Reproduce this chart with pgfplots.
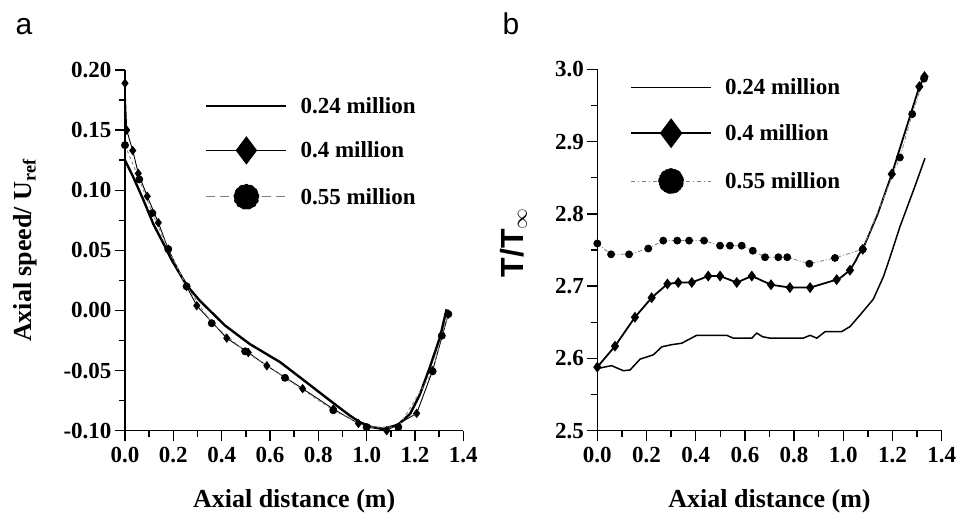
\documentclass[border=0pt]{standalone}
\usepackage{fontspec}
\setmainfont{Liberation Serif}
\setsansfont{Liberation Sans}
\usepackage{pgfplots}
\pgfplotsset{compat=1.18}
\definecolor{lgrey}{gray}{0.5}
\pgfplotsset{myax/.style={
  scale only axis,
  axis lines=left,
  axis line style={-, line width=1.4pt},
  x axis line style={shorten <=-6pt},
  y axis line style={shorten <=-6pt},
  tick align=outside,
  major tick length=10pt,
  minor tick length=6pt,
  tick style={line width=1.4pt, black},
  minor tick num=1,
  xmin=0, xmax=1.4,
  xtick={0,0.2,0.4,0.6,0.8,1.0,1.2,1.4},
  xticklabels={0.0,0.2,0.4,0.6,0.8,1.0,1.2,1.4},
  tick label style={font=\fontsize{23}{23}\selectfont\bfseries},
  xticklabel style={yshift=-3pt},
  xlabel={Axial distance (m)},
  xlabel style={font=\fontsize{26}{26}\selectfont\bfseries, at={(axis description cs:0.5,-0.2135)}, anchor=base},
  legend style={draw=none, fill=none, font=\fontsize{23}{23}\selectfont\bfseries, inner sep=0pt, row sep=20pt,
     /tikz/every odd column/.append style={column sep=11pt}},
  legend cell align=left,
  clip=false,
}}
\begin{document}
\begin{tikzpicture}
\path[use as bounding box] (0pt,0pt) rectangle (960pt,519pt);
\node[font=\sffamily\fontsize{30}{30}\selectfont, anchor=base west] at (12pt,484pt) {a};
\node[font=\sffamily\fontsize{30}{30}\selectfont, anchor=base west] at (499pt,484pt) {b};

% ---------------- panel a ----------------
\begin{axis}[myax,
  at={(125pt,88.3pt)}, anchor=south west,
  width=338.3pt, height=360.7pt,
  ymin=-0.10, ymax=0.20,
  ytick={-0.10,-0.05,0,0.05,0.10,0.15,0.20},
  yticklabels={-0.10,-0.05,0.00,0.05,0.10,0.15,0.20},
  ylabel={Axial speed/ U$_{\mathbf{ref}}$},
  ylabel style={font=\fontsize{26}{26}\selectfont\bfseries, at={(axis description cs:-0.295,0.5)}, anchor=center},
  legend style={at={(axis description cs:0.2365,0.93)}, anchor=north west},
]
\addplot[black, line width=2.4pt, no marks,
  legend image code/.code={\draw[black, line width=2.4pt] (0pt,0pt) -- (80pt,0pt);}]
  coordinates {(0,0.125)(0.034,0.111)(0.076,0.092)(0.117,0.072)(0.166,0.053)(0.193,0.042)(0.255,0.021)(0.31,0.008)(0.414,-0.0125)(0.517,-0.028)(0.642,-0.043)(0.724,-0.0556)(0.849,-0.075)(0.931,-0.0875)(0.973,-0.093)(1.02,-0.097)(1.07,-0.0985)(1.13,-0.095)(1.18,-0.086)(1.22,-0.07)(1.262,-0.047)(1.304,-0.022)(1.331,0.001)};
\addlegendentry{0.24 million}
\addplot[black, line width=0.9pt, mark=diamond*, mark size=4pt, mark options={solid, fill=black},
  legend image code/.code={\draw[black, line width=0.9pt] (0pt,0pt) -- (80pt,0pt);
     \draw[black, fill=black, mark=diamond*, mark size=13.5pt] plot coordinates {(40pt,0pt)};}]
  coordinates {(0,0.189)(0.007,0.15)(0.032,0.133)(0.055,0.114)(0.092,0.095)(0.138,0.073)(0.179,0.051)(0.255,0.02)(0.297,0.004)(0.421,-0.023)(0.51,-0.035)(0.587,-0.046)(0.735,-0.065)(0.862,-0.082)(0.966,-0.094)(1.083,-0.1)(1.207,-0.0856)(1.273,-0.05)(1.338,-0.003)};
\addlegendentry{0.4 million}
\addplot[lgrey, line width=0.9pt, dashed, mark=*, mark size=3.5pt, mark options={solid, fill=black, draw=black},
  legend image code/.code={\draw[lgrey, line width=0.9pt, dash pattern=on 9pt off 5pt] (0pt,0pt) -- (80pt,0pt);
     \fill[black] (40pt,0pt) circle (12.5pt);}]
  coordinates {(0,0.1375)(0.059,0.109)(0.113,0.081)(0.179,0.051)(0.255,0.02)(0.359,-0.0106)(0.497,-0.034)(0.662,-0.056)(0.862,-0.083)(1.0,-0.097)(1.131,-0.097)(1.273,-0.0506)(1.311,-0.021)(1.338,-0.003)};
\addlegendentry{0.55 million}
\end{axis}

% ---------------- panel b ----------------
\begin{axis}[myax,
  at={(597.3pt,88.3pt)}, anchor=south west,
  width=344.4pt, height=361.4pt,
  ymin=2.5, ymax=3.0,
  ytick={2.5,2.6,2.7,2.8,2.9,3.0},
  yticklabels={2.5,2.6,2.7,2.8,2.9,3.0},
  ylabel={T/T$_{\infty}$},
  ylabel style={font=\sffamily\fontsize{32}{32}\selectfont\bfseries, at={(axis description cs:-0.2157,0.52)}, anchor=base},
  legend style={at={(axis description cs:0.095,0.98)}, anchor=north west, row sep=21.5pt},
]
\addplot[black, line width=1.5pt, no marks,
  legend image code/.code={\draw[black, line width=1.5pt] (0pt,0pt) -- (80pt,0pt);}]
  coordinates {(0,2.586)(0.058,2.59)(0.106,2.583)(0.133,2.584)(0.174,2.599)(0.228,2.605)(0.262,2.616)(0.302,2.619)(0.343,2.621)(0.404,2.632)(0.526,2.632)(0.553,2.628)(0.628,2.628)(0.648,2.635)(0.672,2.63)(0.702,2.628)(0.837,2.628)(0.865,2.632)(0.892,2.628)(0.926,2.637)(0.993,2.637)(1.027,2.644)(1.068,2.66)(1.122,2.682)(1.163,2.713)(1.19,2.74)(1.23,2.782)(1.291,2.838)(1.332,2.877)};
\addlegendentry{0.24 million}
\addplot[black, line width=1.8pt, mark=diamond*, mark size=4pt, mark options={solid, fill=black},
  mark indices={1,2,3,4,5,6,7,8,9,10,11,12,13,14,15,17,20,22,23,24},
  legend image code/.code={\draw[black, line width=1.8pt] (0pt,0pt) -- (80pt,0pt);
     \draw[black, fill=black, mark=diamond*, mark size=13.5pt] plot coordinates {(40pt,0pt)};}]
  coordinates {(0,2.588)(0.072,2.617)(0.153,2.657)(0.221,2.684)(0.285,2.703)(0.329,2.705)(0.384,2.705)(0.451,2.714)(0.499,2.714)(0.567,2.705)(0.628,2.714)(0.706,2.702)(0.783,2.698)(0.865,2.698)(0.973,2.709)(0.99,2.712)(1.027,2.722)(1.05,2.735)(1.065,2.745)(1.079,2.751)(1.14,2.80)(1.197,2.855)(1.309,2.976)(1.33,2.99)};
\addlegendentry{0.4 million}
\addplot[lgrey, line width=0.8pt, dash pattern=on 4pt off 2pt on 1pt off 2pt, mark=*, mark size=3.5pt, mark options={solid, fill=black, draw=black},
  legend image code/.code={\draw[lgrey, line width=0.8pt, dash pattern=on 4pt off 3pt on 1pt off 3pt] (0pt,0pt) -- (80pt,0pt);
     \fill[black] (40pt,0pt) circle (12.5pt);}]
  coordinates {(0,2.759)(0.056,2.744)(0.129,2.744)(0.207,2.752)(0.268,2.763)(0.325,2.763)(0.373,2.763)(0.434,2.763)(0.499,2.756)(0.539,2.756)(0.587,2.756)(0.632,2.749)(0.682,2.74)(0.736,2.74)(0.772,2.74)(0.862,2.731)(0.966,2.739)(1.079,2.751)(1.23,2.878)(1.28,2.938)(1.328,2.987)};
\addlegendentry{0.55 million}
\end{axis}
\end{tikzpicture}
\end{document}
